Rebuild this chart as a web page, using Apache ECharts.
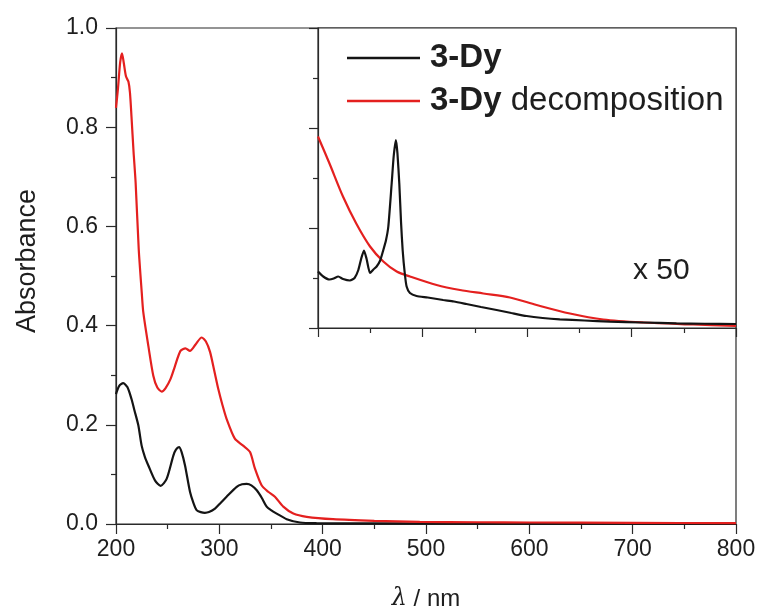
<!DOCTYPE html>
<html>
<head>
<meta charset="utf-8">
<script src="https://cdn.jsdelivr.net/npm/echarts@6/dist/echarts.min.js"></script>
<style>html,body{margin:0;padding:0;background:#fff}#c{width:761px;height:616px}</style>
</head>
<body>
<div id="c"></div>
<script>
// ---- Data ----
const seriesNames = ['3-Dy', '3-Dy decomposition'];
const xTicks = [200, 300, 400, 500, 600, 700, 800];
const yTicks = [0.0, 0.2, 0.4, 0.6, 0.8, 1.0];

// Main plot: 3-Dy
const dyWl  = [200,203,207,211,215,218,221.6,224.8,228,231.3,237.7,243.2,249,255.5,258,261,263.5,266.8,271.6,275,278,282,286,290,295.8,301,307,316.8,322,326.5,331,336.2,341,345.8,350,355.5,365.2,378,394,450,500,600,700,800];
const dyAbs = [0.262,0.278,0.284,0.276,0.252,0.228,0.199,0.158,0.135,0.118,0.088,0.077,0.091,0.138,0.150,0.155,0.145,0.118,0.065,0.042,0.028,0.024,0.0225,0.024,0.031,0.042,0.055,0.075,0.080,0.081,0.078,0.068,0.053,0.035,0.028,0.021,0.0097,0.003,0.0017,0.0012,0.001,0.0008,0.0006,0.0005];

// Main plot: 3-Dy decomposition
const decWl  = [200,202,204,205.8,207.5,209.7,212,213.5,215,217,219,222,224.9,226.4,231.3,236.1,240,244.2,248,252.7,257,262.4,267.2,271.6,277,282.9,287,291,295,299,303,307,315,323,329.7,334.4,340.9,347.3,353.8,361.9,371.6,384.5,410,450,494,550,600,700,800];
const decAbs = [0.839,0.88,0.93,0.949,0.93,0.902,0.892,0.87,0.821,0.75,0.688,0.554,0.467,0.427,0.359,0.299,0.275,0.267,0.274,0.292,0.318,0.349,0.354,0.349,0.362,0.376,0.368,0.347,0.31,0.272,0.24,0.212,0.172,0.158,0.145,0.112,0.078,0.065,0.055,0.035,0.021,0.0145,0.0097,0.0065,0.0044,0.0035,0.003,0.0022,0.0018];

// Inset (x 50): 3-Dy
const inDyWl  = [400,405,411,415,419.4,424,430.6,435,438.6,441.5,444,446.5,449.8,453,456.1,459.5,462.5,465,467.3,470.5,472.5,474.6,476,477.8,479.5,481,483,484.8,488,494.3,505,519.8,530,542,556,570.9,585,599.6,615,631.4,655,679.3,710,743,770,800];
const inDyAbs = [0.0113,0.0103,0.0097,0.0099,0.0103,0.0098,0.0095,0.0100,0.0116,0.0140,0.0155,0.0138,0.0110,0.0117,0.0123,0.0135,0.0156,0.0175,0.0203,0.0289,0.0345,0.0376,0.0350,0.0289,0.0210,0.0156,0.0110,0.0083,0.0070,0.0064,0.0061,0.0056,0.0053,0.0048,0.0042,0.0036,0.0030,0.0024,0.0020,0.00173,0.0015,0.00127,0.0011,0.00093,0.00085,0.0008];

// Inset (x 50): 3-Dy decomposition
const inDecWl  = [400,411,423.9,436.6,449.8,462.5,475.3,488,513.5,535.9,558.2,583.7,609.2,641.1,673,711.3,759,800];
const inDecAbs = [0.0383,0.0329,0.0263,0.0209,0.0163,0.0133,0.0113,0.0103,0.0086,0.0076,0.0069,0.0061,0.0046,0.0029,0.0017,0.0011,0.0007,0.0004];

const insetNote = 'x 50';

// ---- Chart ----
const pairs = (xs, ys) => xs.map((x, i) => [x, ys[i]]);
const FONT = 'Liberation Sans, Arial, Helvetica, sans-serif';
const AX = '#2a2a2a';
const TXT = '#1e1e1e';
const BLACK = '#141414', RED = '#e4201f';

const chart = echarts.init(document.getElementById('c'), null, {renderer: 'canvas'});
chart.setOption({
  backgroundColor: '#fff',
  animation: false,
  textStyle: {fontFamily: FONT},
  grid: [
    {left: 116, top: 28, right: 25, bottom: 90, show: true, borderColor: AX, borderWidth: 1.2, backgroundColor: 'transparent'},
    {left: 318, top: 28, right: 25, bottom: 288, show: true, borderColor: AX, borderWidth: 1.2, backgroundColor: '#fff'}
  ],
  xAxis: [
    {gridIndex: 0, type: 'value', min: xTicks[0], max: xTicks[xTicks.length - 1], interval: 100,
     name: '{i|λ} / nm', nameLocation: 'middle', nameGap: 63,
     nameTextStyle: {fontSize: 24, color: TXT, fontFamily: FONT, rich: {i: {fontStyle: 'italic', fontSize: 24, color: TXT, fontFamily: 'DejaVu Serif, serif'}}},
     axisLine: {show: true, lineStyle: {color: AX, width: 1.2}},
     axisTick: {show: true, inside: false, length: 10, lineStyle: {color: AX, width: 1.2}},
     minorTick: {show: true, splitNumber: 2, length: 5, lineStyle: {color: AX, width: 1.2}},
     splitLine: {show: false},
     axisLabel: {fontSize: 23, color: TXT, margin: 14, fontFamily: FONT}},
    {gridIndex: 1, type: 'value', min: 400, max: 800, interval: 100,
     axisLine: {show: true, lineStyle: {color: AX, width: 1.2}},
     axisTick: {show: true, inside: false, length: 9, lineStyle: {color: AX, width: 1.2}},
     minorTick: {show: true, splitNumber: 2, length: 5, lineStyle: {color: AX, width: 1.2}},
     splitLine: {show: false},
     axisLabel: {show: false}}
  ],
  yAxis: [
    {gridIndex: 0, type: 'value', min: yTicks[0], max: yTicks[yTicks.length - 1], interval: 0.2,
     name: 'Absorbance', nameLocation: 'middle', nameGap: 75,
     nameTextStyle: {fontSize: 27, color: TXT, fontFamily: FONT, padding: [0, 0, 0, 30]},
     axisLine: {show: true, lineStyle: {color: AX, width: 1.2}},
     axisTick: {show: true, inside: false, length: 10, lineStyle: {color: AX, width: 1.2}},
     minorTick: {show: true, splitNumber: 2, length: 5, lineStyle: {color: AX, width: 1.2}},
     splitLine: {show: false},
     axisLabel: {fontSize: 23, color: TXT, margin: 18, fontFamily: FONT, formatter: v => v.toFixed(1)}},
    {gridIndex: 1, type: 'value', min: 0, max: 0.06, interval: 0.02,
     axisLine: {show: true, lineStyle: {color: AX, width: 1.2}},
     axisTick: {show: true, inside: false, length: 9, lineStyle: {color: AX, width: 1.2}},
     minorTick: {show: true, splitNumber: 2, length: 5, lineStyle: {color: AX, width: 1.2}},
     splitLine: {show: false},
     axisLabel: {show: false}}
  ],
  legend: {
    left: 342, top: 35, orient: 'vertical', itemGap: 7,
    icon: 'rect', itemWidth: 73, itemHeight: 2.5,
    data: seriesNames,
    formatter: n => n === seriesNames[0] ? '{b|3-Dy}' : '{b|3-Dy} decomposition',
    textStyle: {fontSize: 33, color: TXT, fontFamily: FONT, lineHeight: 36, padding: [0, 0, 0, 5],
      rich: {b: {fontWeight: 'bold', fontSize: 33, color: TXT, fontFamily: FONT, lineHeight: 36}}}
  },
  graphic: [
    {type: 'text', x: 633, y: 271, z: 100,
     style: {text: insetNote, fontSize: 30, fill: TXT, fontFamily: FONT, verticalAlign: 'middle', align: 'left'}}
  ],
  series: [
    {name: seriesNames[0], type: 'line', xAxisIndex: 0, yAxisIndex: 0, data: pairs(dyWl, dyAbs), showSymbol: false, smooth: 0.25, lineStyle: {color: BLACK, width: 2.2}, itemStyle: {color: BLACK}},
    {name: seriesNames[1], type: 'line', xAxisIndex: 0, yAxisIndex: 0, data: pairs(decWl, decAbs), showSymbol: false, smooth: 0.25, lineStyle: {color: RED, width: 2.2}, itemStyle: {color: RED}},
    {name: seriesNames[0], type: 'line', xAxisIndex: 1, yAxisIndex: 1, data: pairs(inDyWl, inDyAbs), showSymbol: false, smooth: 0.2, lineStyle: {color: BLACK, width: 2.2}, itemStyle: {color: BLACK}, z: 3},
    {name: seriesNames[1], type: 'line', xAxisIndex: 1, yAxisIndex: 1, data: pairs(inDecWl, inDecAbs), showSymbol: false, smooth: 0.3, lineStyle: {color: RED, width: 2.2}, itemStyle: {color: RED}, z: 2}
  ]
});
</script>
</body>
</html>
